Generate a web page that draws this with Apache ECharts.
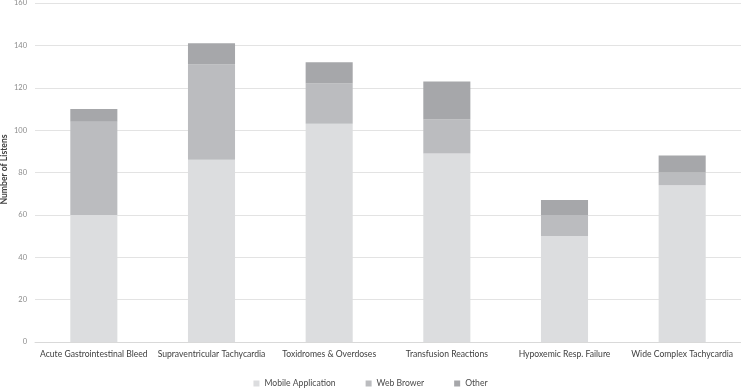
<!DOCTYPE html>
<html>
<head>
<meta charset="utf-8">
<script src="https://cdn.jsdelivr.net/npm/echarts@6/dist/echarts.min.js"></script>
<style>
  html, body { margin: 0; padding: 0; background: #fff; }
  #chart { width: 741px; height: 389px; }
</style>
</head>
<body>
<div id="chart"></div>
<script>
var categories = ['Acute Gastrointestinal Bleed', 'Supraventricular Tachycardia', 'Toxidromes & Overdoses',
                  'Transfusion Reactions', 'Hypoxemic Resp. Failure', 'Wide Complex Tachycardia'];
var mobileApp = [60, 86, 103, 89, 50, 74];
var webBrowser = [44, 45, 19, 16, 10, 6];
var other = [6, 10, 10, 18, 7, 8];
var yTicks = [0, 20, 40, 60, 80, 100, 120, 140, 160];

var chart = echarts.init(document.getElementById('chart'));

function bar(name, data, color) {
  return {
    name: name,
    type: 'bar',
    stack: 'total',
    barWidth: '40%',
    itemStyle: { color: color },
    data: data
  };
}

var option = {
  animation: false,
  textStyle: { fontFamily: 'Lato' },
  grid: { left: 35, right: 0, top: 3, bottom: 47, containLabel: false, outerBoundsMode: 'none' },
  legend: {
    bottom: -4,
    left: 'center',
    itemWidth: 6,
    itemHeight: 6,
    itemGap: 30,
    icon: 'rect',
    textStyle: { fontSize: 8.6, color: '#4a4a4a', fontFamily: 'Lato' },
    data: ['Mobile Application', 'Web Brower', 'Other']
  },
  xAxis: {
    type: 'category',
    data: categories,
    axisTick: { show: false },
    axisLine: { lineStyle: { color: '#d9d9d9' } },
    axisLabel: { fontSize: 8.6, color: '#404040', interval: 0, margin: 8, fontFamily: 'Lato' }
  },
  yAxis: {
    type: 'value',
    min: yTicks[0],
    max: yTicks[yTicks.length - 1],
    interval: 20,
    name: 'Number of Listens',
    nameLocation: 'middle',
    nameGap: 26,
    nameMoveOverlap: false,
    nameTextStyle: { fontSize: 8.6, color: '#404040', fontWeight: 'bold', padding: [0, 0, 0, 6] },
    axisLine: { show: false },
    axisTick: { show: false },
    axisLabel: { fontSize: 7.5, color: '#8c8c8c', margin: 8 },
    splitLine: { lineStyle: { color: '#e3e3e3' } }
  },
  series: [
    bar('Mobile Application', mobileApp, '#dcdddf'),
    bar('Web Brower', webBrowser, '#bbbcbf'),
    bar('Other', other, '#a6a7aa')
  ]
};
chart.setOption(option);
</script>
</body>
</html>
